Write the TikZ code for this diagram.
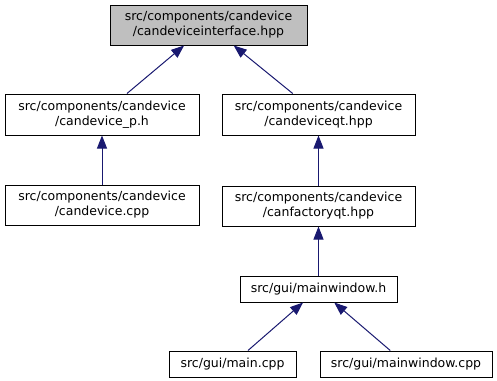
\documentclass[tikz,border=0pt]{standalone}
\usepackage{fontspec}
\setmainfont{DejaVu Sans}
\usepackage{tikz}
\usetikzlibrary{arrows.meta,positioning}

\definecolor{edgeblue}{HTML}{191970}
\definecolor{rootgray}{HTML}{BFBFBF}

\begin{document}
\begin{tikzpicture}[x=1pt, y=1pt, >={Triangle[length=13pt,width=10pt]}, semithick]

    \tikzstyle{file} = [rectangle, draw=black, line width=1pt, inner sep=0pt, minimum height=26pt, align=center, font=\fontsize{12.5}{15}\selectfont]
    \tikzstyle{dep}  = [->, draw=edgeblue, fill=edgeblue, line width=1pt]

    \useasboundingbox (0,0) rectangle (497,-380);

    \node (iface)   [file, fill=rootgray, minimum width=197pt, minimum height=40pt] at (208.5,-25)  {src/components/candevice\\/candeviceinterface.hpp};

    \node (devp)    [file, minimum width=194pt, minimum height=41pt] at (102,-114.5)  {src/components/candevice\\/candevice\_p.h};
    \node (devqt)   [file, minimum width=193pt, minimum height=41pt] at (318.5,-114.5) {src/components/candevice\\/candeviceqt.hpp};

    \node (devcpp)  [file, minimum width=194pt, minimum height=40pt, below=49pt of devp]   {src/components/candevice\\/candevice.cpp};
    \node (factory) [file, minimum width=193pt, minimum height=40pt, below=50pt of devqt]  {src/components/candevice\\/canfactoryqt.hpp};

    \node (mwh)     [file, minimum width=157pt, below=49pt of factory]  {src/gui/mainwindow.h};

    \node (maincpp) [file, minimum width=127pt, below=48pt of mwh, xshift=-86pt] {src/gui/main.cpp};
    \node (mwcpp)   [file, minimum width=172pt, below=48pt of mwh, xshift=87.5pt] {src/gui/mainwindow.cpp};

    \path[dep]  (devp)     edge  (iface);
    \path[dep]  (devqt)    edge  (iface);
    \path[dep]  (devcpp)   edge  (devp);
    \path[dep]  (factory)  edge  (devqt);
    \path[dep]  (mwh)      edge  (factory);
    \path[dep]  (maincpp)  edge  (mwh);
    \path[dep]  (mwcpp)    edge  (mwh);
\end{tikzpicture}
\end{document}
